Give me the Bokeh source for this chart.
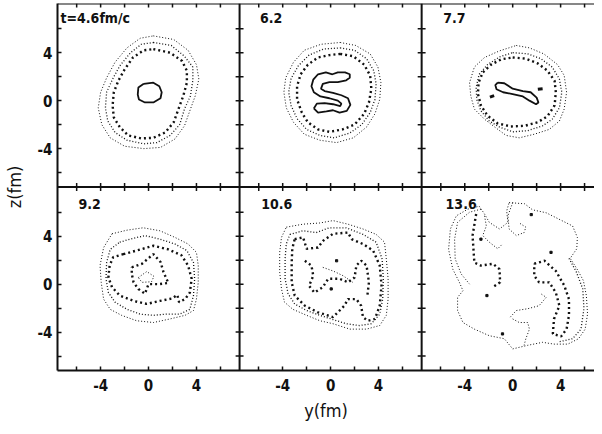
from bokeh.plotting import figure
from bokeh.models import Range1d, FixedTicker, Span
from bokeh.core.properties import value
from bokeh.embed import file_html
from bokeh.resources import INLINE

FONT = "Liberation Sans Narrow, DejaVu Sans Condensed, Roboto Condensed, Liberation Sans, sans-serif"
INK = "#111111"

# ---------------- data (y, z in fm) ----------------
TIMES = ["t=4.6fm/c", "6.2", "7.7", "9.2", "10.6", "13.6"]
AXIS_TICKS = [-4, 0, 4]
AXIS_TICK_LABELS = ["-4", "0", "4"]
BORDER_TICKS = [-6, -4, -2, 0, 2, 4, 6]

# t = 4.6 fm/c
T46_L1 = [(0.4,5.4),(2.1,5.1),(3.3,4.2),(4.0,3.0),(4.2,1.8),(3.9,0.4),(3.5,-0.7),(3.0,-2.1),(2.2,-3.2),(1.0,-3.9),(-0.4,-4.0),(-2.0,-3.8),(-3.2,-3.1),(-3.9,-2.0),(-4.2,-0.6),(-4.0,0.7),(-3.5,1.9),(-2.8,3.2),(-1.8,4.4),(-0.7,5.2)]
T46_L2 = [(0.4,4.85),(1.9,4.6),(3.0,3.7),(3.7,2.8),(3.7,1.7),(3.5,0.4),(3.0,-0.7),(2.6,-2.0),(1.8,-2.9),(0.7,-3.5),(-0.4,-3.6),(-1.8,-3.3),(-2.8,-2.65),(-3.4,-1.7),(-3.6,-0.6),(-3.5,0.7),(-3.0,1.8),(-2.4,2.9),(-1.5,4.0),(-0.6,4.7)]
T46_L3 = [(0.4,4.3),(1.8,4.0),(2.8,3.3),(3.2,2.5),(3.2,1.5),(2.9,0.4),(2.5,-0.7),(2.1,-1.8),(1.4,-2.65),(0.4,-3.1),(-0.6,-3.15),(-1.7,-2.9),(-2.4,-2.2),(-2.9,-1.4),(-3.0,-0.4),(-2.9,0.7),(-2.5,1.7),(-2.0,2.6),(-1.3,3.6),(-0.4,4.2)]
T46_L4 = [(-0.4,1.4),(0.4,1.5),(0.9,1.2),(1.1,0.7),(1.0,0.2),(0.4,-0.15),(-0.3,-0.15),(-0.8,0.1),(-0.9,0.5),(-0.85,1.1)]

# t = 6.2
T62_L1 = [(0.8,4.85),(2.1,4.6),(3.3,3.9),(3.95,2.8),(4.2,1.5),(4.1,0.1),(3.7,-1.1),(3.0,-2.2),(1.9,-3.1),(0.5,-3.5),(-0.9,-3.3),(-2.2,-2.8),(-3.1,-1.8),(-3.7,-0.6),(-3.9,0.7),(-3.75,1.9),(-3.1,3.2),(-2.2,4.2),(-0.8,4.7)]
T62_L2 = [(0.8,4.4),(2.0,4.2),(3.0,3.5),(3.6,2.5),(3.8,1.4),(3.7,0.1),(3.3,-1.0),(2.6,-2.0),(1.6,-2.7),(0.3,-3.1),(-0.9,-2.9),(-2.0,-2.4),(-2.8,-1.5),(-3.3,-0.4),(-3.5,0.7),(-3.3,1.85),(-2.7,2.9),(-1.8,3.8),(-0.6,4.3)]
T62_L3 = [(0.8,3.9),(1.9,3.7),(2.8,3.0),(3.3,2.1),(3.4,1.0),(3.2,-0.15),(2.8,-1.1),(2.0,-2.0),(1.0,-2.4),(-0.1,-2.6),(-1.05,-2.4),(-1.9,-1.8),(-2.4,-1.0),(-2.8,0.1),(-2.8,1.2),(-2.5,2.2),(-1.9,3.0),(-1.05,3.6),(-0.1,3.8)]
T62_L4 = [(-1.4,-0.65),(-1.05,-1.0),(-0.35,-0.9),(0.2,-0.8),(0.75,-1.0),(1.35,-0.85),(1.65,-0.35),(1.45,0.2),(0.9,0.45),(0.2,0.65),(-0.5,0.8),(-0.8,1.0),(-0.65,1.4),(-0.1,1.55),(0.6,1.55),(1.3,1.7),(1.6,1.9),(1.6,2.2),(1.2,2.35),(0.6,2.35),(0.15,2.2),(-0.4,2.35),(-1.05,2.2),(-1.45,1.75),(-1.6,1.2),(-1.4,0.7),(-0.85,0.35),(-0.1,0.2),(0.6,0.0),(0.9,-0.25),(0.8,-0.45),(0.2,-0.3),(-0.5,-0.2),(-1.15,-0.25)]

# t = 7.7
T77_L1 = [(0.3,4.6),(1.4,4.4),(2.6,3.9),(3.75,3.0),(4.3,2.1),(4.5,0.7),(4.3,-0.7),(3.9,-1.7),(3.05,-2.4),(1.8,-2.8),(0.55,-3.1),(-0.55,-2.9),(-1.5,-2.2),(-2.35,-1.55),(-3.2,-0.7),(-3.5,0.4),(-3.6,1.5),(-3.2,2.8),(-2.35,3.6),(-1.1,4.15)]
T77_L2 = [(0.0,4.0),(1.25,3.9),(2.35,3.5),(3.3,2.8),(3.9,1.8),(4.1,0.7),(3.9,-0.6),(3.3,-1.55),(2.5,-2.1),(1.25,-2.5),(0.0,-2.6),(-1.1,-2.2),(-1.95,-1.7),(-2.65,-0.85),(-3.0,0.1),(-3.05,1.1),(-2.8,2.2),(-2.1,3.0),(-1.1,3.65)]
T77_L3 = [(0.0,3.6),(1.1,3.5),(2.1,3.1),(2.9,2.5),(3.5,1.65),(3.6,0.7),(3.5,-0.4),(2.9,-1.3),(2.1,-1.8),(1.0,-2.1),(-0.15,-2.15),(-1.25,-1.9),(-2.1,-1.25),(-2.65,-0.4),(-2.9,0.55),(-2.85,1.5),(-2.5,2.35),(-1.8,3.0),(-0.95,3.45)]
T77_L4 = [(-1.25,1.5),(-0.7,1.45),(0.0,1.0),(0.85,0.8),(1.5,0.7),(2.0,0.25),(2.15,-0.15),(1.95,-0.3),(1.4,0.0),(0.85,0.35),(0.0,0.55),(-0.8,0.7),(-1.35,0.95),(-1.45,1.3)]
T77_BITS_A = [(-1.9,0.3),(-1.55,0.42)]
T77_BITS_B = [(2.1,0.95),(2.5,1.0)]

# t = 9.2
T92_L1 = [(-3.05,4.2),(-1.8,4.5),(-0.45,4.7),(0.95,4.45),(2.2,3.9),(3.3,3.35),(4.0,2.65),(4.15,1.55),(4.15,0.15),(4.0,-1.25),(3.75,-2.2),(3.05,-2.6),(1.8,-2.9),(0.4,-3.2),(-1.0,-3.05),(-2.25,-2.6),(-3.2,-2.1),(-3.75,-1.25),(-3.95,0.15),(-4.05,1.55),(-3.75,3.05)]
T92_L2 = [(-2.4,3.5),(-1.55,3.75),(-0.3,4.05),(0.95,3.75),(2.2,3.35),(3.2,2.8),(3.75,1.8),(3.85,0.45),(3.75,-0.95),(3.45,-2.1),(2.6,-2.5),(1.5,-2.5),(0.4,-2.6),(-0.7,-2.5),(-1.8,-2.1),(-2.8,-1.5),(-3.35,-0.7),(-3.55,0.45),(-3.5,1.8),(-3.2,2.9)]
T92_L3 = [(-2.1,2.5),(-1.0,2.8),(0.4,3.2),(1.65,2.9),(2.75,2.4),(3.3,1.55),(3.6,0.45),(3.45,-0.7),(3.05,-1.25),(2.55,-1.5),(2.4,-0.9),(1.95,-1.2),(0.95,-1.4),(-0.15,-1.65),(-1.25,-1.4),(-2.4,-0.95),(-3.05,-0.25),(-3.35,0.55),(-3.25,1.55),(-2.95,2.25)]
T92_L3B = [(-1.4,1.4),(-0.55,1.7),(0.4,2.5),(1.0,1.85),(1.25,1.0),(1.65,0.1),(0.9,0.0),(0.0,0.0),(-0.3,-0.8),(-0.85,-0.4),(-1.25,0.15),(-1.4,0.85)]
T92_L4 = [(-0.85,0.55),(-0.15,1.05),(0.45,0.65),(0.25,0.2),(-0.55,0.15)]

# t = 10.6
T106_L1 = [(-3.7,4.75),(-2.3,5.0),(-0.9,5.1),(0.2,5.3),(1.45,5.0),(2.7,4.6),(3.8,4.15),(4.5,3.5),(4.65,2.1),(4.8,0.45),(4.8,-1.25),(4.65,-2.6),(4.1,-3.45),(3.0,-3.75),(1.6,-3.75),(0.2,-3.3),(-0.9,-3.05),(-2.0,-2.6),(-3.15,-2.1),(-3.85,-1.5),(-4.1,-0.4),(-4.25,1.0),(-4.25,2.65),(-4.1,3.9)]
T106_L2 = [(-3.4,4.15),(-2.3,4.45),(-1.2,4.3),(-0.1,4.7),(1.3,4.7),(2.7,4.15),(3.8,3.5),(4.3,2.1),(4.4,0.45),(4.35,-1.25),(4.1,-2.5),(3.4,-3.3),(2.4,-3.45),(1.3,-3.3),(0.2,-2.95),(-0.9,-2.6),(-2.0,-2.2),(-3.0,-1.65),(-3.55,-0.8),(-3.8,0.45),(-3.8,2.1),(-3.7,3.35)]
T106_L3 = [(-3.0,3.75),(-2.3,3.9),(-2.0,2.95),(-1.05,3.05),(-0.65,3.6),(0.2,4.2),(1.45,4.3),(1.75,3.75),(2.7,3.35),(3.55,2.8),(4.1,1.55),(4.25,-0.1),(4.1,-1.8),(3.7,-2.9),(3.1,-3.05),(2.7,-2.75),(2.55,-1.8),(2.15,-1.25),(1.45,-1.25),(1.15,-1.8),(0.2,-2.75),(-1.05,-2.35),(-2.15,-1.8),(-3.0,-0.95),(-3.25,0.15),(-3.25,1.8),(-3.2,2.95)]
T106_L3B = [(-2.15,1.95),(-1.6,1.55),(-1.45,0.7),(-1.8,-0.15),(-1.35,-0.7),(-0.65,-0.25),(-0.2,0.45),(0.75,0.45),(1.45,0.15),(2.0,0.55),(2.15,1.55),(2.55,1.95),(3.0,1.55),(3.2,0.15),(3.05,-1.1)]
T106_L4 = [(-0.65,1.4),(0.2,1.1),(1.05,0.7),(1.85,0.15)]
T106_DOTS = [(0.5,1.95),(0.05,-0.4)]

# t = 13.6
T136_L1 = [(-0.3,6.8),(1.0,6.7),(1.65,6.2),(2.8,5.95),(4.0,5.35),(5.0,4.85),(5.4,3.9),(5.35,2.95),(4.8,2.15),(5.35,1.3),(5.9,0.3),(6.15,-0.95),(6.25,-2.5),(6.05,-3.75),(5.5,-4.55),(4.6,-5.0),(3.45,-5.0),(2.5,-4.85),(1.25,-5.1),(0.0,-5.4),(-0.7,-4.55),(-1.95,-4.3),(-3.2,-3.75),(-4.15,-3.2),(-4.6,-2.2),(-4.6,-1.1),(-4.15,-0.55),(-4.45,0.15),(-5.0,1.25),(-5.35,2.9),(-5.2,4.6),(-4.7,5.7),(-3.75,6.25),(-2.8,6.5),(-2.35,5.85),(-1.95,5.15),(-1.1,4.6),(-0.4,5.15),(-0.5,6.1)]
T136_L2 = [(-2.65,6.25),(-3.6,6.0),(-4.6,5.15),(-4.85,3.75),(-4.8,2.1),(-4.3,0.85),(-3.6,0.0)]
T136_L3 = [(-3.05,5.85),(-3.35,4.05),(-3.2,1.8),(-2.65,1.55),(-1.65,1.7),(-1.1,1.25),(-1.05,0.15),(-1.65,-0.25)]
T136_L4 = [(0.0,6.8),(-0.4,5.7),(-0.3,4.6),(0.3,4.05),(0.95,4.3),(1.1,4.75),(0.55,5.1)]
T136_L5 = [(-2.35,5.7),(-2.2,4.85),(-2.5,4.05),(-1.95,3.5),(-1.25,2.95),(-0.85,3.35)]
T136_L6 = [(1.8,1.7),(2.65,1.95),(3.6,1.1),(4.3,-0.1),(4.7,-1.25),(4.7,-2.6),(4.5,-3.75),(4.05,-4.35),(3.35,-4.15),(3.45,-2.9),(3.9,-1.8),(3.6,-0.7),(3.05,0.15),(2.2,0.15),(1.8,0.7)]
T136_L7 = [(4.7,2.15),(5.3,1.05),(5.85,-0.4),(5.95,-2.05),(5.7,-3.75),(5.0,-4.55),(3.9,-4.8)]
T136_L8 = [(-0.2,-2.75),(0.3,-2.2),(1.25,-2.05),(2.2,-1.8),(2.8,-1.1),(2.35,-0.8)]
T136_L9 = [(0.0,-2.9),(0.55,-3.2),(1.25,-3.2),(1.4,-3.75),(1.1,-4.55),(0.95,-5.1)]
T136_DOTS = [(1.55,5.8),(3.2,2.65),(-2.15,-0.95),(-0.85,-4.15),(-2.65,3.75)]

# (style, points, closed)
PANELS = [
    [("fine", T46_L1, True), ("mid", T46_L2, True), ("bold", T46_L3, True), ("solid", T46_L4, True)],
    [("fine", T62_L1, True), ("mid", T62_L2, True), ("bold", T62_L3, True), ("solid", T62_L4, True)],
    [("fine", T77_L1, True), ("mid", T77_L2, True), ("bold", T77_L3, True), ("solid", T77_L4, True),
     ("thick", T77_BITS_A, False), ("thick", T77_BITS_B, False)],
    [("fine", T92_L1, True), ("mid", T92_L2, True), ("bold", T92_L3, True), ("bold", T92_L3B, True), ("fine", T92_L4, True)],
    [("fine", T106_L1, True), ("mid", T106_L2, True), ("bold", T106_L3, True), ("bold", T106_L3B, False), ("fine", T106_L4, False)],
    [("fine", T136_L1, True), ("fine", T136_L2, False), ("bold", T136_L3, False), ("fine", T136_L4, False),
     ("fine", T136_L5, False), ("bold", T136_L6, True), ("mid", T136_L7, False), ("fine", T136_L8, False), ("fine", T136_L9, False)],
]
PANEL_DOTS = [[], [], [], [], T106_DOTS, T136_DOTS]

# ---------------- layout ----------------
COL_W = 15.2          # width of one panel in fm
ROW_H = 15.3          # height of one panel in fm
Y_LO, Y_HI = -7.6, 7.6
Z_LO, Z_HI = -7.2, 8.1
X_END = 2 * COL_W + 6.83
TITLE_POS = [(-7.35, 6.9), (-5.9, 6.9), (-5.8, 6.9), (-5.85, 6.65), (-5.8, 6.65), (-5.6, 6.65)]

STYLES = {
    "fine": dict(line_width=1.0, line_dash="1 2"),
    "mid": dict(line_width=1.3, line_dash="1 2"),
    "bold": dict(line_width=2.4, line_dash="2 3"),
    "solid": dict(line_width=1.8, line_dash="solid"),
    "thick": dict(line_width=3.0, line_dash="solid"),
}

p = figure(width=594, height=426,
           x_range=Range1d(Y_LO, X_END), y_range=Range1d(Z_LO, Z_HI + ROW_H),
           output_backend="svg", toolbar_location=None,
           min_border_left=56, min_border_right=0, min_border_top=3, min_border_bottom=56)
p.outline_line_color = None
p.xgrid.grid_line_color = None
p.ygrid.grid_line_color = None
p.background_fill_color = "white"
p.border_fill_color = "white"

def offs(k):
    c, r = k % 3, k // 3
    return c * COL_W, (1 - r) * ROW_H

groups = {s: ([], []) for s in STYLES}
for k, contours in enumerate(PANELS):
    ox, oz = offs(k)
    for style, pts, closed in contours:
        seq = list(pts) + ([pts[0]] if closed else [])
        groups[style][0].append([x + ox for x, _ in seq])
        groups[style][1].append([z + oz for _, z in seq])
for style, (xs, ys) in groups.items():
    if xs:
        p.multi_line(xs=xs, ys=ys, line_color=INK, line_cap="butt", **STYLES[style])

dx, dz = [], []
for k, dots in enumerate(PANEL_DOTS):
    ox, oz = offs(k)
    for x, z in dots:
        dx.append(x + ox)
        dz.append(z + oz)
p.scatter(dx, dz, marker="square", size=2.2, color=INK)

# panel labels
tx = [TITLE_POS[k][0] + offs(k)[0] for k in range(6)]
tz = [TITLE_POS[k][1] + offs(k)[1] for k in range(6)]
p.text(x=tx, y=tz, text=TIMES, text_font=value(FONT), text_font_size="14px",
       text_font_style="bold", text_baseline="middle", text_align="left", text_color=INK)

# dividers and top border
for loc in [Y_HI, Y_HI + COL_W]:
    p.add_layout(Span(location=loc, dimension="height", line_color=INK, line_width=2))
p.add_layout(Span(location=Z_HI, dimension="width", line_color=INK, line_width=2))
p.add_layout(Span(location=Z_HI + ROW_H, dimension="width", line_color=INK, line_width=2))

# small border ticks on dividers / top edge
tl = 0.33
sx0, sy0, sx1, sy1 = [], [], [], []
for loc in [Y_HI, Y_HI + COL_W]:
    for r in range(2):
        for t in BORDER_TICKS:
            z = t + (1 - r) * ROW_H
            sx0.append(loc - tl); sx1.append(loc + tl); sy0.append(z); sy1.append(z)
for c in range(3):
    for t in BORDER_TICKS:
        x = t + c * COL_W
        if x > X_END:
            continue
        sx0.append(x); sx1.append(x); sy0.append(Z_HI - tl); sy1.append(Z_HI + tl)
        sx0.append(x); sx1.append(x); sy0.append(Z_HI + ROW_H); sy1.append(Z_HI + ROW_H - tl)
p.segment(sx0, sy0, sx1, sy1, line_color=INK, line_width=1.5)

# axes
xt, xlab = [], {}
for c in range(3):
    for t in BORDER_TICKS:
        v = round(t + c * COL_W, 6)
        if v > X_END:
            continue
        xt.append(v)
        xlab[v] = AXIS_TICK_LABELS[AXIS_TICKS.index(t)] if t in AXIS_TICKS else ""
zt, zlab = [], {}
for r in range(2):
    for t in BORDER_TICKS:
        v = round(t + (1 - r) * ROW_H, 6)
        zt.append(v)
        zlab[v] = AXIS_TICK_LABELS[AXIS_TICKS.index(t)] if t in AXIS_TICKS else ""

for ax, ticks, labs in [(p.xaxis[0], xt, xlab), (p.yaxis[0], zt, zlab)]:
    ax.ticker = FixedTicker(ticks=ticks)
    ax.major_label_overrides = labs
    ax.major_tick_in = 4
    ax.major_tick_out = 0
    ax.major_tick_line_width = 1.5
    ax.major_tick_line_color = INK
    ax.minor_tick_line_color = None
    ax.axis_line_width = 2
    ax.axis_line_color = INK
    ax.major_label_text_font = FONT
    ax.major_label_text_font_size = "15px"
    ax.major_label_text_font_style = "bold"
    ax.major_label_text_color = INK
    ax.axis_label_text_font = FONT
    ax.axis_label_text_font_size = "18px"
    ax.axis_label_text_font_style = "normal"
    ax.axis_label_text_color = INK

p.xaxis.axis_label = "y(fm)"
p.yaxis.axis_label = "z(fm)"
p.xaxis.major_label_standoff = 8
p.xaxis.axis_label_standoff = 6
p.yaxis.major_label_standoff = 5
p.yaxis.axis_label_standoff = 10
p.yaxis.major_label_orientation = "horizontal"

open("out.html", "w").write(file_html(p, INLINE))
